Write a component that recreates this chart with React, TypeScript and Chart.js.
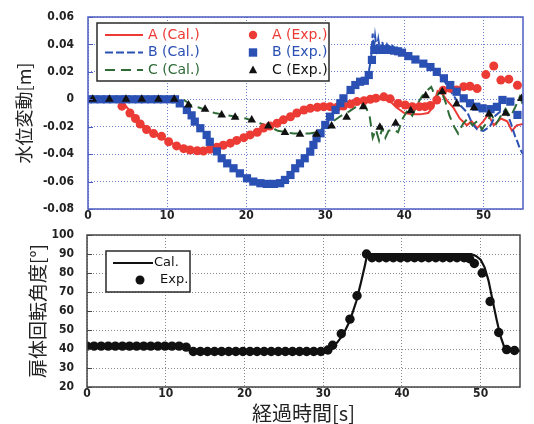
import React, { useEffect, useRef } from 'react';
import { Chart, registerables } from 'chart.js';
Chart.register(...registerables);

// ---------- Top chart data: water level change [m] ----------
const A_CAL_T = [0, 4, 4.5, 5.5, 7, 9, 11, 13, 14.5, 16, 18, 20, 22, 24, 26, 28, 30, 32, 34, 36, 37.5, 38.3, 39, 40, 41, 42, 43, 43.6, 44.2, 44.8, 45.4, 46.2, 47, 47.9, 48.5, 49.2, 50, 50.6, 51.3, 52.2, 53, 53.6, 54.2, 55];
const A_CAL_V = [0, 0, -0.003, -0.01, -0.019, -0.027, -0.033, -0.037, -0.038, -0.036, -0.032, -0.027, -0.022, -0.016, -0.011, -0.007, -0.005, -0.005, -0.002, 0, 0, -0.002, -0.006, -0.01, -0.011, -0.011, -0.01, -0.006, 0.006, 0.004, -0.001, -0.006, -0.014, -0.019, -0.016, -0.021, -0.016, -0.011, -0.019, -0.014, -0.016, -0.023, -0.019, -0.018];

const B_CAL_T = [0, 11, 12, 13, 14, 15, 16, 17, 18, 19, 20, 21, 22, 23, 24, 25, 26, 27, 28, 29, 30, 31, 32, 33, 34, 35, 35.5, 35.8, 36.0, 36.15, 36.3, 36.5, 36.7, 36.9, 37.2, 37.5, 37.8, 38.1, 38.5, 38.9, 39.3, 40, 41, 42, 43, 44, 45, 45.6, 46.3, 47, 48, 48.6, 49.2, 50, 50.8, 51.5, 52.3, 53, 53.5, 54, 54.3, 54.6, 55];
const B_CAL_V = [0, 0, -0.005, -0.011, -0.019, -0.027, -0.036, -0.044, -0.049, -0.053, -0.057, -0.06, -0.0615, -0.062, -0.0615, -0.058, -0.052, -0.045, -0.038, -0.028, -0.019, -0.01, -0.002, 0.006, 0.011, 0.014, 0.02, 0.03, 0.048, 0.036, 0.046, 0.037, 0.044, 0.036, 0.042, 0.035, 0.04, 0.036, 0.039, 0.036, 0.035, 0.033, 0.03, 0.027, 0.024, 0.02, 0.014, 0.008, 0.002, -0.004, -0.01, -0.018, -0.022, -0.023, -0.02, -0.012, -0.008, -0.01, -0.018, -0.027, -0.031, -0.036, -0.04];

const C_CAL_T = [0, 12, 12.5, 13.2, 14, 15, 16, 17, 18, 19, 20, 21, 22, 23, 24, 25, 26, 27, 28, 29, 30, 31, 32, 33, 34, 35, 35.6, 36, 36.4, 36.8, 37.2, 37.6, 38, 38.6, 39.2, 39.8, 40.4, 41, 41.6, 42.2, 42.8, 43.4, 44, 44.6, 45.2, 45.7, 46.3, 46.8, 47.4, 48, 48.6, 49.2, 49.8, 50.4, 51, 51.6, 52.2, 52.8, 53.4, 54, 54.6, 55];
const C_CAL_V = [0, 0, -0.002, -0.005, -0.006, -0.008, -0.01, -0.011, -0.012, -0.013, -0.014, -0.016, -0.018, -0.02, -0.023, -0.024, -0.025, -0.025, -0.025, -0.024, -0.02, -0.016, -0.012, -0.009, -0.005, -0.004, -0.012, -0.028, -0.022, -0.03, -0.021, -0.028, -0.023, -0.022, -0.024, -0.014, -0.008, -0.012, -0.004, 0.002, 0.006, 0.009, 0.001, 0.007, -0.002, -0.012, -0.02, -0.025, -0.018, -0.014, -0.019, -0.016, -0.022, -0.017, -0.011, -0.018, -0.012, -0.007, -0.013, -0.006, 0.002, -0.004];

const A_EXP_T = [4.3, 5.3, 6.0, 6.6, 7.4, 8.3, 9.3, 10.2, 11.2, 12.1, 12.9, 13.8, 14.6, 15.4, 16.3, 17.1, 18.0, 18.8, 19.7, 20.5, 21.4, 22.2, 23.0, 23.9, 24.7, 25.6, 26.4, 27.3, 28.1, 29.0, 29.8, 30.6, 31.5, 32.3, 33.2, 34.0, 34.9, 35.7, 36.4, 37.4, 38.2, 39.2, 40.1, 41.0, 41.9, 42.6, 43.3, 44.1, 44.9, 45.8, 46.6, 47.5, 48.3, 49.2, 50.3, 51.3, 52.2, 53.2, 54.3];
const A_EXP_V = [-0.005, -0.01, -0.014, -0.018, -0.022, -0.025, -0.027, -0.031, -0.034, -0.036, -0.037, -0.0375, -0.0377, -0.0365, -0.035, -0.0335, -0.032, -0.03, -0.028, -0.026, -0.024, -0.021, -0.0195, -0.0175, -0.015, -0.0127, -0.01, -0.0078, -0.0066, -0.0058, -0.0054, -0.0054, -0.0058, -0.0049, -0.0034, -0.0017, -0.001, 0, 0.0008, 0.0018, 0.0003, -0.003, -0.0042, -0.0054, -0.0054, -0.0054, -0.0045, -0.0005, 0.0065, 0.008, 0.0068, 0.0092, 0.0095, 0.0078, 0.018, 0.0243, 0.014, 0.0147, 0.0102];

const B_EXP_T = [0, 0.8, 1.6, 2.4, 3.2, 4.0, 4.8, 5.6, 6.4, 7.2, 8.0, 8.8, 9.6, 10.4, 11.0, 11.6, 12.5, 13.1, 13.5, 14.2, 15.0, 15.4, 16.3, 16.9, 17.6, 18.4, 19.2, 20.1, 20.9, 21.8, 22.6, 23.5, 24.3, 24.9, 25.6, 26.2, 26.8, 27.4, 28.1, 28.5, 28.9, 29.4, 30.0, 30.6, 31.3, 31.9, 32.3, 33.2, 33.8, 34.4, 35.0, 35.5, 35.9, 36.2, 36.7, 37.2, 37.7, 38.2, 38.7, 39.2, 39.7, 40.5, 41.4, 42.4, 43.3, 44.1, 45.0, 45.8, 46.6, 47.5, 48.3, 49.1, 49.9, 50.9, 51.7, 52.4, 53.4, 54.3];
const B_EXP_V = [0, 0, 0, 0, 0, 0, 0, 0, 0, 0, 0, 0, 0, 0, 0, -0.003, -0.0078, -0.0117, -0.0163, -0.0211, -0.026, -0.031, -0.038, -0.043, -0.0467, -0.0503, -0.054, -0.0576, -0.06, -0.0612, -0.0617, -0.0617, -0.0612, -0.0588, -0.0552, -0.0503, -0.0467, -0.043, -0.0382, -0.0333, -0.0284, -0.0248, -0.0187, -0.0127, -0.0078, -0.0029, 0.0007, 0.0068, 0.0104, 0.0128, 0.0135, 0.0177, 0.0287, 0.036, 0.0365, 0.036, 0.0365, 0.036, 0.0355, 0.035, 0.034, 0.0315, 0.029, 0.026, 0.0235, 0.02, 0.0153, 0.0104, 0.0055, 0.0007, -0.0029, -0.0054, -0.0066, -0.0072, -0.0055, -0.0005, -0.0017, -0.0114];

const C_EXP_T = [0.6, 2.7, 4.8, 6.8, 8.9, 10.9, 12.7, 14.8, 16.9, 18.6, 20.7, 22.8, 24.9, 26.8, 28.9, 30.8, 32.7, 34.8, 36.9, 38.9, 40.8, 42.7, 44.8, 46.6, 48.8, 50.7, 52.8, 54.8];
const C_EXP_V = [0, 0, 0, 0, 0, 0, -0.0042, -0.0073, -0.0114, -0.0131, -0.0151, -0.0195, -0.0243, -0.0255, -0.0255, -0.0195, -0.0131, -0.0054, -0.0204, -0.0175, -0.0083, 0.0026, 0.0055, -0.0034, -0.0061, -0.0107, -0.0102, 0.0005];

// ---------- Bottom chart data: gate rotation angle [deg] ----------
const ANG_CAL_T = [0, 4, 4.6, 12, 12.6, 13.3, 30.3, 31, 31.8, 32.6, 33.4, 34.2, 34.8, 35.3, 35.6, 48.8, 49.4, 50, 50.5, 51, 51.5, 52, 52.5, 53, 53.5, 55];
const ANG_CAL_V = [41.5, 41.5, 42.5, 42.5, 41.5, 38.7, 38.7, 40.5, 43.5, 48, 55, 65, 75, 84, 90, 90, 89, 87, 83, 76, 66, 56, 47, 41, 39, 39];

const ANG_EXP_T = [0, 0.9, 1.8, 2.7, 3.6, 4.5, 5.4, 6.3, 7.2, 8.1, 9.0, 9.9, 10.8, 11.7, 12.6, 13.5, 14.4, 15.3, 16.2, 17.1, 18.0, 18.9, 19.8, 20.7, 21.6, 22.5, 23.4, 24.3, 25.2, 26.1, 27.0, 27.9, 28.8, 29.7, 30.6, 31.2, 32.3, 33.4, 34.3, 35.5, 36.2, 37.1, 38.0, 38.9, 39.8, 40.7, 41.6, 42.5, 43.4, 44.3, 45.2, 46.1, 47.0, 47.9, 48.6, 49.2, 50.2, 51.2, 52.3, 53.3, 54.3];
const ANG_EXP_V = [41.5, 41.5, 41.5, 41.5, 41.5, 41.5, 41.5, 41.5, 41.5, 41.5, 41.5, 41.5, 41.5, 41.5, 41, 38.7, 38.7, 38.7, 38.7, 38.7, 38.7, 38.7, 38.7, 38.7, 38.7, 38.7, 38.7, 38.7, 38.7, 38.7, 38.7, 38.7, 38.7, 38.7, 39.5, 42, 48, 55.7, 68, 90, 88, 88, 88, 88, 88, 88, 88, 88, 88, 88, 88, 88, 88, 88, 87.5, 85, 80, 65, 48.7, 39.7, 39.2];

const TOP_LEGEND = [
  { label: 'A (Cal.)', color: '#ec3a34', kind: 'line', dash: [] as number[] },
  { label: 'A (Exp.)', color: '#ec3a34', kind: 'circle' },
  { label: 'B (Cal.)', color: '#2b50b4', kind: 'line', dash: [8, 3] },
  { label: 'B (Exp.)', color: '#2b50b4', kind: 'rect' },
  { label: 'C (Cal.)', color: '#2f6b37', kind: 'line', dash: [10, 6] },
  { label: 'C (Exp.)', color: '#111111', kind: 'triangle' },
];
const BOTTOM_LEGEND = [
  { label: 'Cal.', color: '#111111', kind: 'line', dash: [] as number[] },
  { label: 'Exp.', color: '#111111', kind: 'circle' },
];

const RED = '#ec3a34';
const BLUE = '#2b50b4';
const GREEN = '#2f6b37';
const BLACK = '#111111';

const pts = (t: number[], v: number[]) => t.map((x, i) => ({ x, y: v[i] }));

const TICK_FONT = { family: '"DejaVu Sans Condensed", "Liberation Sans Narrow", "Liberation Sans", sans-serif', size: 12, weight: 'bold' as const };
const LEGEND_FONT = '14px "DejaVu Sans", sans-serif';
const CJK = '"Noto Sans CJK JP", "Noto Sans CJK SC", sans-serif';

function drawMarker(ctx: CanvasRenderingContext2D, kind: string, x: number, y: number, color: string, r: number) {
  ctx.fillStyle = color;
  ctx.beginPath();
  if (kind === 'circle') ctx.arc(x, y, r, 0, Math.PI * 2);
  else if (kind === 'rect') ctx.rect(x - r, y - r, 2 * r, 2 * r);
  else if (kind === 'triangle') { ctx.moveTo(x, y - r * 1.1); ctx.lineTo(x + r, y + r * 0.8); ctx.lineTo(x - r, y + r * 0.8); ctx.closePath(); }
  ctx.fill();
}

const framePlugin = {
  id: 'frame',
  afterDatasetsDraw(chart: any, _a: any, opts: any) {
    const { ctx, chartArea } = chart;
    const { left, top, right, bottom } = chartArea;
    ctx.save();
    const ys = chart.scales.y;
    ctx.strokeStyle = opts.color;
    ctx.lineWidth = 1;
    ys.ticks.forEach((t: any) => {
      const p = Math.round(ys.getPixelForValue(t.value)) + 0.5;
      ctx.beginPath(); ctx.moveTo(left, p); ctx.lineTo(left + 5, p); ctx.stroke();
    });
    ctx.lineWidth = opts.width;
    ctx.strokeRect(left, top, right - left, bottom - top);
    ctx.restore();
  },
};

const boxLegendPlugin = {
  id: 'boxLegend',
  afterDatasetsDraw(chart: any, _a: any, opts: any) {
    if (!opts || !opts.items) return;
    const { ctx, chartArea } = chart;
    const bx = chartArea.left + opts.dx, by = chartArea.top + opts.dy;
    ctx.save();
    ctx.fillStyle = '#ffffff';
    ctx.fillRect(bx, by, opts.w, opts.h);
    ctx.strokeStyle = '#2a2a2a';
    ctx.lineWidth = 1.5;
    ctx.strokeRect(bx, by, opts.w, opts.h);
    ctx.font = opts.font;
    ctx.textBaseline = 'middle';
    ctx.textAlign = 'left';
    opts.items.forEach((it: any, i: number) => {
      const col = i % opts.cols;
      const row = Math.floor(i / opts.cols);
      const y = by + opts.rowY[row];
      const cx = bx + opts.colX[col];
      if (it.kind === 'line') {
        ctx.strokeStyle = it.color;
        ctx.lineWidth = 2;
        ctx.setLineDash(it.dash || []);
        ctx.beginPath(); ctx.moveTo(cx, y); ctx.lineTo(cx + opts.lineLen, y); ctx.stroke();
        ctx.setLineDash([]);
      } else {
        drawMarker(ctx, it.kind, cx + opts.markX, y, it.color, opts.markR);
      }
      ctx.fillStyle = it.color;
      ctx.fillText(it.label, cx + (it.kind === 'line' ? opts.textX : opts.markTextX), y);
    });
    ctx.restore();
  },
};

function xGrid(color: string) {
  return {
    grid: { color, lineWidth: 1, drawTicks: false },
    border: { display: false, dash: [1, 2] },
  };
}
function yGrid(color: string, gap: number) {
  return {
    grid: { color, lineWidth: 1, drawTicks: true, tickLength: gap, tickColor: 'rgba(0,0,0,0)' },
    border: { display: false, dash: [1, 2] },
  };
}

function topConfig(): any {
  return {
    type: 'scatter',
    data: {
      datasets: [
        { data: pts(A_CAL_T, A_CAL_V), showLine: true, borderColor: RED, borderWidth: 2, pointRadius: 0, order: 6 },
        { data: pts(B_CAL_T, B_CAL_V), showLine: true, borderColor: BLUE, borderWidth: 2, borderDash: [8, 3], pointRadius: 0, order: 5 },
        { data: pts(C_CAL_T, C_CAL_V), showLine: true, borderColor: GREEN, borderWidth: 2, borderDash: [10, 6], pointRadius: 0, order: 4 },
        { data: pts(A_EXP_T, A_EXP_V), showLine: false, pointStyle: 'circle', pointRadius: 4.5, backgroundColor: RED, borderWidth: 0, order: 3 },
        { data: pts(B_EXP_T, B_EXP_V), showLine: false, pointStyle: 'rect', pointRadius: 5.8, backgroundColor: BLUE, borderWidth: 0, order: 2 },
        { data: pts(C_EXP_T, C_EXP_V), showLine: false, pointStyle: 'triangle', pointRadius: 5, backgroundColor: BLACK, borderWidth: 0, order: 1 },
      ],
    },
    options: {
      animation: false,
      responsive: false,
      maintainAspectRatio: false,
      events: [],
      layout: { padding: { top: 17, right: 11, left: 0, bottom: 0 } },
      plugins: {
        legend: { display: false },
        tooltip: { enabled: false },
        frame: { color: '#4c5cc0', width: 1.5 },
        boxLegend: {
          items: TOP_LEGEND, cols: 2, dx: 9, dy: 6, w: 232, h: 58,
          rowY: [12, 29.5, 47], colX: [8, 146], lineLen: 38, textX: 43,
          markX: 10, markTextX: 29, markR: 4.2, font: LEGEND_FONT,
        },
      },
      scales: {
        x: {
          type: 'linear', min: 0, max: 55,
          afterBuildTicks: (s: any) => { s.ticks = s.ticks.filter((t: any) => t.value % 10 === 0); },
          afterFit: (s: any) => { s.height = 15; },
          ticks: { stepSize: 10, padding: 0, font: TICK_FONT, color: '#222', maxRotation: 0, autoSkip: false },
          ...xGrid('#7080d0'),
        },
        y: {
          type: 'linear', min: -0.08, max: 0.06,
          afterFit: (s: any) => { s.width = 88; },
          ticks: {
            stepSize: 0.02, padding: 0, font: TICK_FONT, color: '#222',
            callback: (v: any) => { const n = Math.round(Number(v) * 100) / 100; return n === 0 ? '0' : n.toFixed(2); },
          },
          title: { display: true, text: '水位変動[m]', color: '#222', font: { family: CJK, size: 18, lineHeight: 1 }, padding: { top: 15, bottom: 0 } },
          ...yGrid('#7080d0', 14),
        },
      },
    },
    plugins: [framePlugin, boxLegendPlugin],
  };
}

function bottomConfig(): any {
  return {
    type: 'scatter',
    data: {
      datasets: [
        { data: pts(ANG_CAL_T, ANG_CAL_V), showLine: true, borderColor: BLACK, borderWidth: 2.2, pointRadius: 0, order: 2 },
        { data: pts(ANG_EXP_T, ANG_EXP_V), showLine: false, pointStyle: 'circle', pointRadius: 4.7, backgroundColor: BLACK, borderWidth: 0, order: 1 },
      ],
    },
    options: {
      animation: false,
      responsive: false,
      maintainAspectRatio: false,
      events: [],
      layout: { padding: { top: 11, right: 14, left: 0, bottom: 0 } },
      plugins: {
        legend: { display: false },
        tooltip: { enabled: false },
        frame: { color: '#444444', width: 1.5 },
        boxLegend: {
          items: BOTTOM_LEGEND, cols: 1, dx: 19, dy: 16, w: 84, h: 41,
          rowY: [12, 29], colX: [7], lineLen: 40, textX: 41,
          markX: 27, markTextX: 47, markR: 4.5, font: '13px "DejaVu Sans", sans-serif',
        },
      },
      scales: {
        x: {
          type: 'linear', min: 0, max: 55,
          afterBuildTicks: (s: any) => { s.ticks = s.ticks.filter((t: any) => t.value % 10 === 0); },
          afterFit: (s: any) => { s.height = 37; },
          ticks: { stepSize: 10, padding: 0, font: TICK_FONT, color: '#222', maxRotation: 0, autoSkip: false },
          title: { display: true, text: '経過時間[s]', color: '#222', font: { family: CJK, size: 20, lineHeight: 1 }, padding: { top: 0, bottom: 1 } },
          ...xGrid('#888888'),
        },
        y: {
          type: 'linear', min: 20, max: 100,
          afterFit: (s: any) => { s.width = 87; },
          ticks: { stepSize: 10, padding: 0, font: TICK_FONT, color: '#222' },
          title: { display: true, text: '扉体回転角度[°]', color: '#222', font: { family: CJK, size: 19, lineHeight: 1 }, padding: { top: 28.5, bottom: 0 } },
          ...yGrid('#888888', 13),
        },
      },
    },
    plugins: [framePlugin, boxLegendPlugin],
  };
}

export default function App() {
  const topRef = useRef<HTMLCanvasElement | null>(null);
  const botRef = useRef<HTMLCanvasElement | null>(null);
  useEffect(() => {
    const c1 = new Chart(topRef.current as HTMLCanvasElement, topConfig());
    const c2 = new Chart(botRef.current as HTMLCanvasElement, bottomConfig());
    return () => { c1.destroy(); c2.destroy(); };
  }, []);
  return (
    <div style={{ position: 'fixed', left: 0, top: 0, width: 534, height: 424, background: '#fff' }}>
      <canvas ref={topRef} width={534} height={224} style={{ position: 'absolute', left: 0, top: 0, width: 534, height: 224 }} />
      <canvas ref={botRef} width={534} height={200} style={{ position: 'absolute', left: 0, top: 224, width: 534, height: 200 }} />
    </div>
  );
}
